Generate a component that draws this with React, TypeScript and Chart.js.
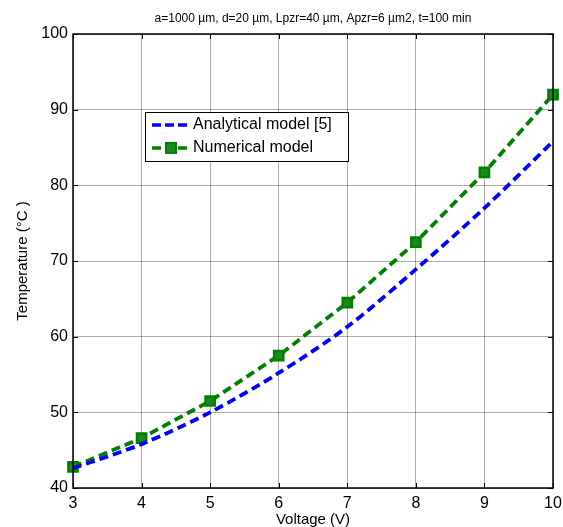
import React, { useEffect, useRef } from "react";
import { Chart, registerables } from "chart.js";

Chart.register(...registerables);

const voltages = [3, 4, 5, 6, 7, 8, 9, 10];
const analytical = [42.6, 45.8, 50.0, 55.2, 61.3, 68.9, 77.0, 85.8];
const numerical = [42.8, 46.6, 51.5, 57.5, 64.5, 72.5, 81.7, 92.0];
const yTicks = [40, 50, 60, 70, 80, 90, 100];
const titleText = "a=1000 \u00b5m, d=20 \u00b5m, Lpzr=40 \u00b5m, Apzr=6 \u00b5m2, t=100 min";
const seriesLabels = ["Analytical model [5]", "Numerical model"];

const FONT = "'Liberation Sans', Arial, sans-serif";

const framePlugin = {
  id: "framePlugin",
  afterDraw(chart: any) {
    const ctx = chart.ctx;
    const a = chart.chartArea;
    const xs = chart.scales.x;
    const ys = chart.scales.y;
    ctx.save();
    // title
    ctx.fillStyle = "#000";
    ctx.font = `12px ${FONT}`;
    ctx.textAlign = "center";
    ctx.textBaseline = "alphabetic";
    ctx.fillText(titleText, (a.left + a.right) / 2, 22);
    // frame
    ctx.strokeStyle = "#000";
    ctx.lineWidth = 1.5;
    ctx.strokeRect(a.left, a.top, a.right - a.left, a.bottom - a.top);
    // inward ticks
    ctx.lineWidth = 1;
    voltages.forEach((v) => {
      const x = Math.round(xs.getPixelForValue(v)) + 0.5;
      ctx.beginPath();
      ctx.moveTo(x, a.bottom);
      ctx.lineTo(x, a.bottom - 5);
      ctx.moveTo(x, a.top);
      ctx.lineTo(x, a.top + 5);
      ctx.stroke();
    });
    yTicks.forEach((v) => {
      const y = Math.round(ys.getPixelForValue(v)) + 0.5;
      ctx.beginPath();
      ctx.moveTo(a.left, y);
      ctx.lineTo(a.left + 5, y);
      ctx.moveTo(a.right, y);
      ctx.lineTo(a.right - 5, y);
      ctx.stroke();
    });
    // legend
    const lx = xs.getPixelForValue(4.05);
    const ly = ys.getPixelForValue(89.7);
    const lw = 203;
    const lh = 49;
    ctx.fillStyle = "#fff";
    ctx.fillRect(lx, ly, lw, lh);
    ctx.strokeStyle = "#000";
    ctx.lineWidth = 1;
    ctx.strokeRect(Math.round(lx) + 0.5, Math.round(ly) + 0.5, lw, lh);
    const ds = chart.data.datasets;
    const rows = [ly + 13, ly + 36];
    ds.forEach((d: any, i: number) => {
      const y = rows[i];
      ctx.strokeStyle = d.borderColor;
      ctx.lineWidth = 3.5;
      ctx.setLineDash([9, 4]);
      ctx.beginPath();
      ctx.moveTo(lx + 7, y);
      ctx.lineTo(lx + 45, y);
      ctx.stroke();
      ctx.setLineDash([]);
      if (i === 1) {
        ctx.fillStyle = d.pointBackgroundColor;
        ctx.strokeStyle = d.borderColor;
        ctx.lineWidth = 2;
        ctx.fillRect(lx + 21, y - 5, 10, 10);
        ctx.strokeRect(lx + 21, y - 5, 10, 10);
      }
      ctx.fillStyle = "#000";
      ctx.font = `16px ${FONT}`;
      ctx.textAlign = "left";
      ctx.textBaseline = "middle";
      ctx.fillText(d.label, lx + 48, y);
    });
    ctx.restore();
  },
};

export default function App() {
  const ref = useRef<HTMLCanvasElement | null>(null);
  useEffect(() => {
    if (!ref.current) return;
    const chart = new Chart(ref.current, {
      type: "line",
      data: {
        labels: voltages,
        datasets: [
          {
            label: seriesLabels[0],
            data: voltages.map((v, i) => ({ x: v, y: analytical[i] })),
            borderColor: "#0000ff",
            backgroundColor: "#0000ff",
            borderWidth: 3.8,
            borderDash: [9, 5],
            pointRadius: 0,
            tension: 0.3,
          },
          {
            label: seriesLabels[1],
            data: voltages.map((v, i) => ({ x: v, y: numerical[i] })),
            borderColor: "#008000",
            backgroundColor: "#008000",
            pointBackgroundColor: "#1a8a1a",
            pointBorderColor: "#008000",
            borderWidth: 3.8,
            borderDash: [9, 5],
            pointStyle: "rect",
            pointRadius: 6.5,
            pointBorderWidth: 2.5,
            tension: 0,
            clip: false,
          },
        ],
      },
      options: {
        animation: false,
        responsive: false,
        layout: { padding: { top: 34, right: 10, left: 0, bottom: 0 } },
        plugins: {
          legend: { display: false },
          tooltip: { enabled: false },
          title: { display: false },
        },
        scales: {
          x: {
            type: "linear",
            min: 3,
            max: 10,
            afterFit: (s: any) => {
              s.height = 39;
              s.paddingLeft = 0;
              s.paddingRight = 0;
            },
            afterBuildTicks: (s: any) => {
              s.ticks = voltages.map((v) => ({ value: v }));
            },
            grid: { color: "rgba(0,0,0,0.32)", lineWidth: 1, drawTicks: false },
            border: { display: false },
            ticks: {
              color: "#000",
              padding: 6,
              font: { family: FONT, size: 16 },
              maxRotation: 0,
            },
            title: {
              display: true,
              text: "Voltage (V)",
              color: "#000",
              font: { family: FONT, size: 15 },
              padding: { top: 0, bottom: -2 },
            },
          },
          y: {
            type: "linear",
            min: 40,
            max: 100,
            afterFit: (s: any) => {
              s.width = 73;
              s.paddingTop = 0;
              s.paddingBottom = 0;
            },
            afterBuildTicks: (s: any) => {
              s.ticks = yTicks.map((v) => ({ value: v }));
            },
            grid: { color: "rgba(0,0,0,0.32)", lineWidth: 1, drawTicks: false },
            border: { display: false },
            ticks: {
              color: "#000",
              padding: 5,
              font: { family: FONT, size: 16 },
            },
            title: {
              display: true,
              text: "Temperature (\u00b0C )",
              color: "#000",
              font: { family: FONT, size: 15 },
              padding: { top: 14, bottom: 0 },
            },
          },
        },
      },
      plugins: [framePlugin],
    });
    return () => chart.destroy();
  }, []);
  return (
    <div style={{ position: "fixed", left: 0, top: 0, width: 563, height: 527, background: "#fff" }}>
      <canvas ref={ref} width={563} height={527} style={{ width: 563, height: 527 }} />
    </div>
  );
}
